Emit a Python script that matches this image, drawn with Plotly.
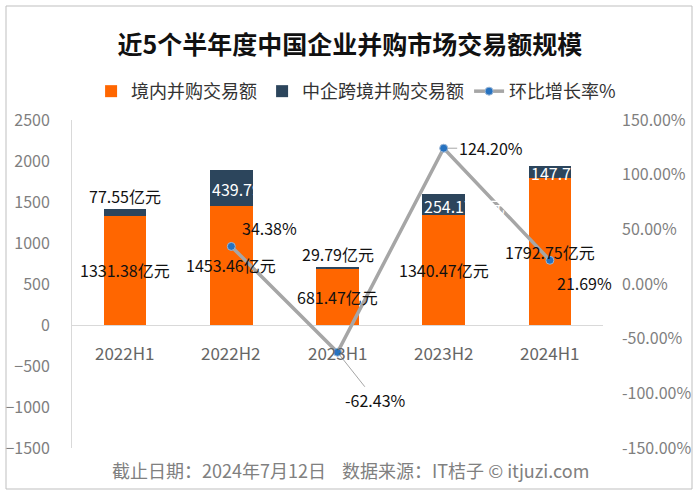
import plotly.graph_objects as go

# ---------------- data ----------------
categories = ["2022H1", "2022H2", "2023H1", "2023H2", "2024H1"]
domestic = [1331.38, 1453.46, 681.47, 1340.47, 1792.75]      # 境内并购交易额 (亿元)
cross_border = [77.55, 439.79, 29.79, 254.17, 147.77]         # 中企跨境并购交易额 (亿元)
growth = [None, 34.38, -62.43, 124.20, 21.69]                 # 环比增长率 %
left_ticks = [-1500, -1000, -500, 0, 500, 1000, 1500, 2000, 2500]
right_ticks = [-150, -100, -50, 0, 50, 100, 150]

title_text = "近5个半年度中国企业并购市场交易额规模"
footer_text = "截止日期：2024年7月12日    数据来源：IT桔子 © itjuzi.com"

# ---------------- style ----------------
FONT = "Noto Sans CJK SC"
ORANGE = "#FF6600"
NAVY = "#2C455C"
LINE_GRAY = "#A6A6A6"
DOT_BLUE = "#2672C0"
TICK_GRAY = "#7F7F7F"
BAR_W = 0.4
# pixel offsets of the growth labels relative to their points
pct_dx = [0, 38, 38, 47, 35]
pct_dy = [0, 18, -48, 0, -23]
pct_arrow = [False, False, True, True, False]

x = list(range(len(categories)))

fig = go.Figure()
fig.add_trace(go.Bar(
    x=x, y=domestic, name="境内并购交易额", marker_color=ORANGE,
    width=BAR_W, marker_line_width=0, yaxis="y",
))
fig.add_trace(go.Bar(
    x=x, y=cross_border, name="中企跨境并购交易额", marker_color=NAVY,
    width=BAR_W, marker_line_width=0, yaxis="y",
))
fig.add_trace(go.Scatter(
    x=x, y=growth, name="环比增长率%", mode="lines+markers", yaxis="y2",
    line=dict(color=LINE_GRAY, width=3.5),
    marker=dict(color=DOT_BLUE, size=8, line=dict(color="#9DB7D5", width=1)),
    connectgaps=False,
))

annotations = []
# domestic labels: middle of the orange segment
for i, v in enumerate(domestic):
    annotations.append(dict(
        x=i, y=v / 2, xref="x", yref="y", text=f"{v:.2f}亿元", showarrow=False,
        font=dict(family=FONT, size=16, color="#111111"),
        xanchor="center", yanchor="middle",
    ))
# cross-border labels
for i, (d, c) in enumerate(zip(domestic, cross_border)):
    if c < 100:
        annotations.append(dict(
            x=i, y=d + c, xref="x", yref="y", text=f"{c:.2f}亿元", showarrow=False,
            font=dict(family=FONT, size=16, color="#111111"),
            xanchor="center", yanchor="bottom", yshift=-1,
        ))
    else:
        annotations.append(dict(
            x=i - BAR_W / 2, y=d + c / 2, xref="x", yref="y", text=f"{c:.2f}亿元",
            showarrow=False, font=dict(family=FONT, size=16, color="#FFFFFF"),
            xanchor="left", yanchor="middle", xshift=0, yshift=-1,
        ))
# growth labels
for i, g in enumerate(growth):
    if g is None:
        continue
    if pct_arrow[i]:
        annotations.append(dict(
            x=i, y=g, xref="x", yref="y2", text=f"{g:.2f}%", showarrow=True,
            ax=pct_dx[i], ay=-pct_dy[i], arrowhead=0, arrowwidth=1,
            arrowcolor=LINE_GRAY, standoff=4,
            font=dict(family=FONT, size=16, color="#111111"),
        ))
    else:
        annotations.append(dict(
            x=i, y=g, xref="x", yref="y2", text=f"{g:.2f}%", showarrow=False,
            xshift=pct_dx[i], yshift=pct_dy[i],
            font=dict(family=FONT, size=16, color="#111111"),
        ))
# category labels just below the zero line
for i, c in enumerate(categories):
    annotations.append(dict(
        x=i, y=0, xref="x", yref="y", text=c, showarrow=False,
        yanchor="middle", yshift=-27,
        font=dict(family=FONT, size=17, color="#666666"),
    ))
# footer
annotations.append(dict(
    x=0.524, y=-0.066, xref="paper", yref="paper", text=footer_text,
    showarrow=False, xanchor="center", yanchor="middle",
    font=dict(family=FONT, size=18, color="#808080"),
))

fig.update_layout(
    width=700, height=497,
    margin=dict(l=72, r=97, t=120, b=49),
    paper_bgcolor="white", plot_bgcolor="white",
    barmode="stack",
    bargap=0.6,
    font=dict(family=FONT),
    title=dict(
        text=title_text, x=0.5, xanchor="center", xref="container",
        y=1 - 45 / 497, yanchor="middle", yref="container",
        font=dict(family=FONT, size=25, color="#111111", weight="bold"),
    ),
    legend=dict(
        orientation="h", x=0.535, xanchor="center", y=1.087, yanchor="middle",
        font=dict(family=FONT, size=18, color="#333333"),
        traceorder="normal", itemwidth=30,
    ),
    xaxis=dict(
        range=[-0.5, len(categories) - 0.5], showticklabels=False,
        showgrid=False, zeroline=False, showline=False, ticks="",
        automargin=False,
    ),
    yaxis=dict(
        range=[-1500, 2500], tickvals=left_ticks, showgrid=False,
        zeroline=True, zerolinecolor="#D9D9D9", zerolinewidth=1,
        showline=True, linecolor="#D9D9D9", linewidth=1, ticks="",
        tickfont=dict(family=FONT, size=16, color=TICK_GRAY),
        ticklabelstandoff=18, automargin=False,
    ),
    yaxis2=dict(
        range=[-150, 150], tickvals=right_ticks,
        ticktext=[f"{v:.2f}%" for v in right_ticks],
        overlaying="y", side="right", showgrid=False, zeroline=False,
        showline=False, ticks="",
        tickfont=dict(family=FONT, size=16, color=TICK_GRAY),
        ticklabelstandoff=18, automargin=False,
    ),
    annotations=annotations,
    shapes=[dict(
        type="rect", xref="paper", yref="paper",
        x0=(6 - 72) / 531, x1=(692 - 72) / 531,
        y0=(448 - 489) / 328, y1=(448 - 6) / 328,
        line=dict(color="#BFBFBF", width=1), fillcolor="rgba(0,0,0,0)",
        layer="above",
    )],
    showlegend=True,
)

fig.write_html(
    "out.html",
    config={"displayModeBar": False},
    post_script="document.body.style.margin='0';document.body.style.overflow='hidden';",
)
